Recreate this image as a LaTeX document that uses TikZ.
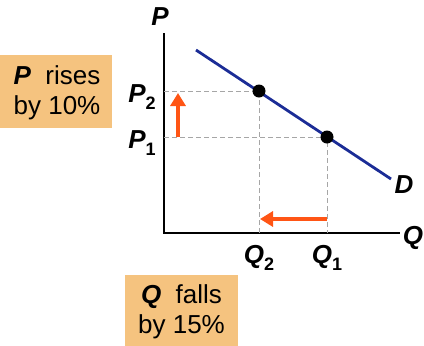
\documentclass[tikz,border=0pt]{standalone}
\usepackage{fontspec}
\setmainfont{Liberation Sans}
\usetikzlibrary{arrows.meta}
\definecolor{boxfill}{HTML}{F5C37F}
\definecolor{dline}{HTML}{1B2C96}
\definecolor{arr}{HTML}{FF5515}
\newcommand{\BI}[1]{\textbf{\textit{#1}}}
\newcommand{\lab}[2]{\BI{#1}\raisebox{-0.28em}{\fontsize{18}{18}\selectfont\textbf{#2}}}
\tikzset{
  every node/.style={inner sep=0pt, outer sep=0pt},
  big/.style={font=\fontsize{26}{30}\selectfont},
  axis/.style={line width=1.3pt, black},
  guide/.style={gray!70, line width=0.9pt, dash pattern=on 5pt off 3pt},
  demand/.style={dline, line width=2.8pt},
  dot/.style={circle, fill=black, minimum size=13pt},
  movearrow/.style={arr, line width=3.5pt, -{Triangle[length=13pt,width=15pt]}}
}
\begin{document}
\begin{tikzpicture}[x=1pt,y=-1pt]
\useasboundingbox (0,0) rectangle (424,346);
% boxes
\fill[boxfill] (0,55) rectangle (112,128);
\node[big, align=center] (pbox) at (57,93) {\BI{P}~ rises\\by 10\%};
\fill[boxfill] (125,275) rectangle (238,346);
\node[big, align=center] (qbox) at (181.5,312) {\BI{Q}~ falls\\by 15\%};
% axes
\coordinate (O) at (164,233);
\coordinate (ytop) at (164,33);
\coordinate (xend) at (400,233);
\draw[axis] (ytop) -- (O) -- (xend);
\node[big] (Plab) at (160,17) {\BI{P}};
\node[big] (Qlab) at (413,238) {\BI{Q}};
% demand
\coordinate (d1) at (196,50);
\coordinate (d2) at (391,179);
\draw[demand] (d1) -- (d2);
\node[big] (Dlab) at (404,185) {\BI{D}};
% guides
\coordinate (A0) at (259,91);
\coordinate (B0) at (327,137);
\coordinate (ya) at (164,91);
\coordinate (yb) at (164,137);
\coordinate (xa) at (259,233);
\coordinate (xb) at (327,233);
\draw[guide] (ya) -- (A0) -- (xa);
\draw[guide] (yb) -- (B0) -- (xb);
% points
\node[dot] (A) at (A0) {};
\node[dot] (B) at (B0) {};
% labels
\node[big] (P2) at (142,97) {\lab{P}{2}};
\node[big] (P1) at (142,143) {\lab{P}{1}};
\node[big] (Q2) at (259,258) {\lab{Q}{2}};
\node[big] (Q1) at (327,258) {\lab{Q}{1}};
% arrows
\coordinate (u1) at (178,137);
\coordinate (u2) at (178,93);
\draw[movearrow] (u1) -- (u2);
\coordinate (l1) at (327,219);
\coordinate (l2) at (260,219);
\draw[movearrow] (l1) -- (l2);
\end{tikzpicture}
\end{document}
